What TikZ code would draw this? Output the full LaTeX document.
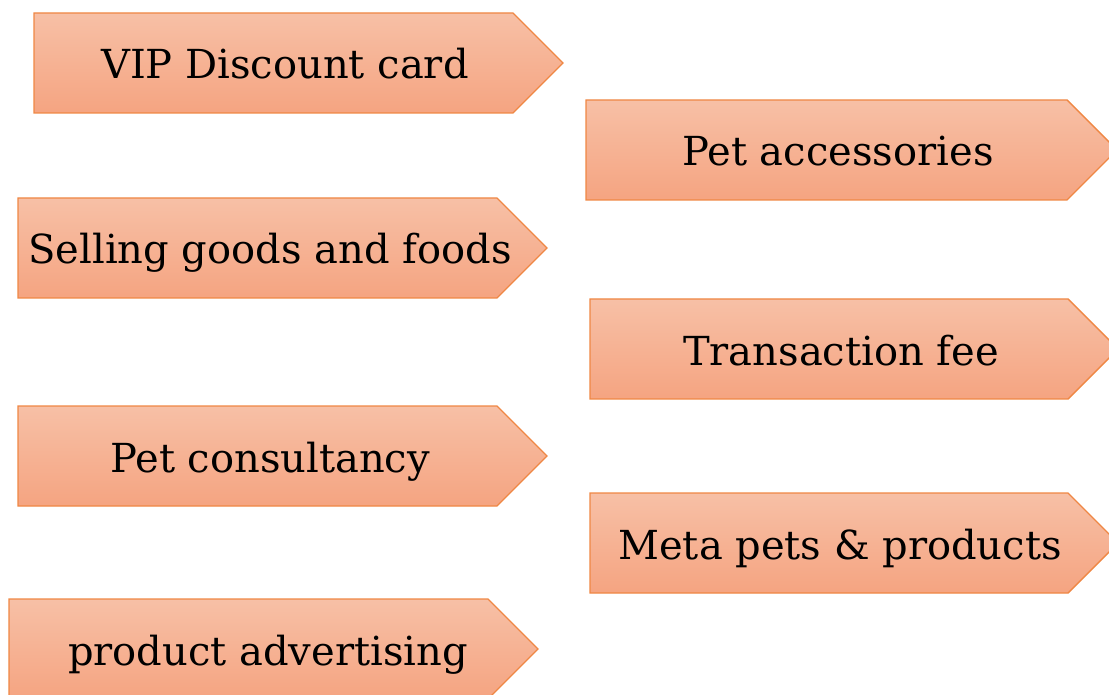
\documentclass[tikz,border=0pt]{standalone}
\usepackage{fontspec}
\setmainfont{DejaVu Serif}
\definecolor{tagtop}{RGB}{247,192,166}
\definecolor{tagbottom}{RGB}{245,164,129}
\definecolor{tagline}{RGB}{239,135,68}

\begin{document}
\begin{tikzpicture}[x=0.5pt, y=-0.5pt,
  tagbox/.style={draw=tagline, line width=0.7pt, top color=tagtop, bottom color=tagbottom},
  lbl/.style={anchor=base, inner sep=0pt, font=\fontsize{20}{24}\selectfont}]
  \useasboundingbox (0,0) rectangle (1109,695);
  \clip (0,0) rectangle (1109,695);
  % arrow tags: name / left / top / body right / text centre / text
  \foreach \nm/\lx/\ty/\rx/\tx/\txt in {
      vip/34/13/513/285/VIP Discount card,
      acc/586/100/1067/838/Pet accessories,
      sell/18/198/497/270/Selling goods and foods,
      fee/590/299/1068/841/Transaction fee,
      consult/18/406/497/270/Pet consultancy,
      meta/590/493/1068/840/Meta pets \& products,
      advert/9/599/488/268/product advertising} {
    \path[tagbox] (\lx,\ty) -- (\rx,\ty) -- (\rx+50,\ty+50) -- (\rx,\ty+100)
      -- (\lx,\ty+100) -- cycle;
    \node[lbl] (\nm) at (\tx,\ty+66) {\txt};
  }
\end{tikzpicture}
\end{document}
